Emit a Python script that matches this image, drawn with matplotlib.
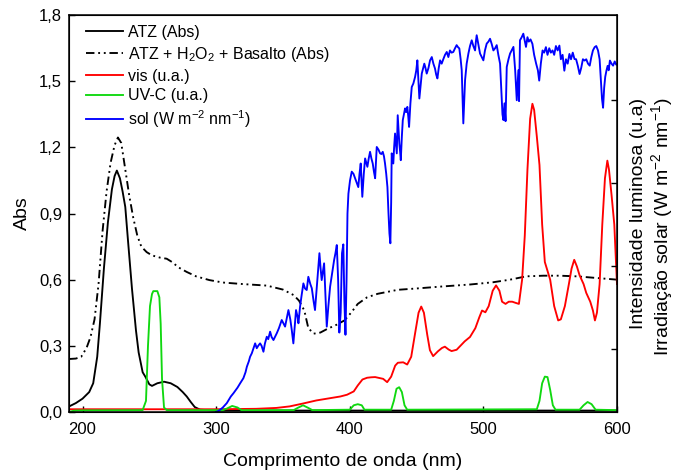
import matplotlib
matplotlib.use("Agg")
import matplotlib.pyplot as plt
from matplotlib.ticker import FuncFormatter

plt.rcParams['font.family'] = ['Liberation Sans', 'DejaVu Sans']
plt.rcParams['mathtext.default'] = 'regular'

# ATZ (Abs)
atz_x = [190, 195, 200, 205, 208, 211, 213, 216, 219, 222, 224, 225.7, 228, 230, 232, 234, 237, 240,
         242, 245, 247, 250, 252, 256, 261, 266, 271, 275, 278, 281, 284, 288, 300, 400, 500, 600]
atz_y = [0.025, 0.04, 0.06, 0.09, 0.13, 0.25, 0.40, 0.65, 0.86, 1.01, 1.07, 1.095, 1.06, 1.0, 0.93,
         0.78, 0.56, 0.37, 0.27, 0.18, 0.16, 0.125, 0.118, 0.13, 0.137, 0.13, 0.113, 0.09, 0.07, 0.045,
         0.022, 0.01, 0.006, 0.006, 0.006, 0.006]

# ATZ + H2O2 + Basalto (Abs)
mix_x = [190, 195, 199, 203, 206, 209, 212, 215, 218, 221, 224, 226.5, 229, 232, 235, 238, 241, 244,
         248, 252, 258, 263, 267, 272, 278, 285, 295, 305, 320, 338, 350, 358, 362, 366, 369, 373,
         378, 383, 390, 396, 401, 406, 413, 421, 436, 450, 469, 490, 507, 520, 532, 545, 557, 570,
         582, 592, 600]
mix_y = [0.24, 0.242, 0.25, 0.29, 0.34, 0.42, 0.58, 0.82, 1.0, 1.13, 1.21, 1.245, 1.22, 1.1, 0.98,
         0.88, 0.8, 0.75, 0.725, 0.71, 0.70, 0.695, 0.68, 0.655, 0.635, 0.615, 0.598, 0.587, 0.58,
         0.573, 0.555, 0.53, 0.505, 0.46, 0.38, 0.355, 0.36, 0.376, 0.395, 0.415, 0.45, 0.49, 0.52,
         0.536, 0.554, 0.56, 0.569, 0.578, 0.588, 0.6, 0.615, 0.618, 0.618, 0.615, 0.609, 0.604, 0.6]

# vis (u.a.)
vis_x = [190, 250, 300, 330, 345, 355, 365, 375, 385, 393, 398, 403, 406, 409.5, 413, 416, 419, 422,
         425, 428, 431, 434, 436, 440, 443, 446, 449, 451.5, 453.5, 455.5, 458, 460, 462.4, 466, 469,
         471.2, 474, 476.2, 480, 486, 490, 494, 497, 499, 501.5, 504, 507, 509.5, 512, 514, 516.6,
         519, 521.6, 524, 526.6, 529, 531, 533, 535, 536.7, 538, 540, 542, 544, 546, 548, 550, 553,
         556, 558, 561, 564, 566, 568, 570, 572, 575, 577, 580, 582, 583.5, 585, 587, 589, 591,
         592.8, 594, 596, 598, 600]
vis_y = [0.012, 0.012, 0.012, 0.014, 0.018, 0.025, 0.038, 0.052, 0.062, 0.07, 0.078, 0.093, 0.12,
         0.147, 0.155, 0.157, 0.158, 0.154, 0.15, 0.135, 0.16, 0.21, 0.223, 0.225, 0.215, 0.25, 0.36,
         0.45, 0.478, 0.45, 0.35, 0.28, 0.253, 0.275, 0.29, 0.296, 0.283, 0.276, 0.282, 0.32, 0.34,
         0.38, 0.43, 0.46, 0.452, 0.48, 0.55, 0.574, 0.55, 0.5, 0.49, 0.5, 0.5, 0.495, 0.49, 0.6,
         0.8, 1.1, 1.33, 1.398, 1.37, 1.25, 1.12, 0.85, 0.68, 0.64, 0.6, 0.48, 0.415, 0.42, 0.48,
         0.58, 0.65, 0.69, 0.66, 0.62, 0.58, 0.54, 0.5, 0.46, 0.415, 0.45, 0.58, 0.85, 1.06, 1.14,
         1.1, 0.98, 0.85, 0.58]

# UV-C (u.a.)
uvc_x = [190, 194, 200, 245, 247.5, 249, 250.5, 252, 253, 256, 257.5, 258.5, 259.5, 261, 263, 305,
         308, 312, 316, 319, 358, 361, 365, 369, 372, 400, 403, 406, 409, 411, 431, 433, 435, 437,
         439, 441, 443, 540, 542, 544, 546, 548, 550, 552, 554, 572, 575, 578, 581, 584, 600]
uvc_y = [0.0, 0.006, 0.007, 0.008, 0.05, 0.3, 0.48, 0.535, 0.548, 0.548, 0.52, 0.4, 0.15, 0.02,
         0.008, 0.008, 0.015, 0.027, 0.02, 0.008, 0.008, 0.018, 0.03, 0.018, 0.008, 0.01, 0.03,
         0.035, 0.03, 0.01, 0.01, 0.05, 0.105, 0.112, 0.09, 0.03, 0.01, 0.012, 0.05, 0.13, 0.16,
         0.158, 0.1, 0.03, 0.01, 0.01, 0.03, 0.045, 0.035, 0.01, 0.008]

# sol (W m-2 nm-1)
sol_x = [300, 302, 305, 308, 311, 313, 316, 318, 320.4, 322, 323, 324.5, 325.4, 326.7, 328, 329.2,
         330.4, 331.5, 332.9, 334, 335.4, 336.5, 337.9, 339, 340.4, 341.5, 342.9, 344, 345.4, 347,
         349.1, 350.5, 351.6, 353, 354.1, 355.5, 356.6, 357.8, 359, 359.8, 361, 361.6, 362.8, 364,
         365.3, 366.5, 367.8, 369, 370.5, 371.6, 373, 374, 375.5, 377.3, 378.2, 379, 380, 380.8,
         382, 382.8, 384, 385.3, 386.8, 388.3, 389.3, 390.3, 391.3, 392.2, 393.2, 394.2, 395.2,
         396, 396.8, 397.6, 398.3, 399, 400.2, 401.5, 402.8, 404, 405.2, 406.4, 407.3, 408.2,
         409.4, 410.5, 411.5, 412.4, 413.2, 414.2, 415.2, 416.2, 417.2, 418.1, 419, 420.2, 421.5,
         422.7, 423.7, 424.7, 425.6, 426.4, 427.3, 428.2, 429, 429.7, 430.4, 431, 431.4, 432,
         432.6, 433.2, 433.9, 434.5, 435.2, 435.9, 436.5, 437.1, 437.7, 438.2, 439, 439.7, 440.5,
         441.4, 442.2, 443.1, 443.8, 444.4, 445.4, 446.4, 447.6, 448.9, 449.8, 450.6, 451.4,
         452.1, 453, 453.9, 455, 455.8, 456.7, 457.6, 458.9, 460.1, 461.4, 462.6, 463.8, 464.7,
         465.6, 466.6, 467.6, 468.8, 470, 471.3, 472.6, 473.8, 475, 476.2, 477.5, 478.8, 480,
         481, 482, 483, 483.8, 484.5, 485, 485.7, 486.3, 487.5, 488.8, 490, 491.3, 492.5, 493.8,
         494.4, 495, 496.2, 497.5, 498.8, 500, 501.2, 502.5, 503.8, 505, 506.2, 507.5, 508.8,
         510, 511.2, 512.5, 513.5, 514.3, 515, 515.8, 516.6, 517.5, 518.8, 520, 521.2, 522.5,
         523.8, 525, 526.2, 526.7, 527.4, 528.7, 529.9, 530.8, 531.9, 533, 534, 535.3, 536.7,
         538, 539.5, 540.8, 541.8, 543, 544.3, 545.5, 546.8, 548, 549.3, 550.5, 551.8, 553,
         554.3, 555.6, 556.9, 558, 559.3, 560.6, 561.8, 563.1, 564.4, 565.6, 566.9, 568.2,
         569.4, 570.7, 572, 573.2, 574.5, 575.8, 577, 578.3, 579.6, 580.8, 582, 583.3, 584.5,
         585.8, 587, 588, 588.8, 589.6, 590.4, 591.2, 592.1, 593, 593.8, 594.7, 595.9, 597.1,
         598.3, 599.5, 600]
sol_y = [0.0, 0.005, 0.02, 0.04, 0.07, 0.085, 0.11, 0.13, 0.153, 0.18, 0.205, 0.23, 0.25, 0.266,
         0.29, 0.311, 0.289, 0.3, 0.311, 0.3, 0.273, 0.31, 0.341, 0.33, 0.364, 0.34, 0.326, 0.34,
         0.357, 0.38, 0.417, 0.4, 0.387, 0.43, 0.462, 0.42, 0.372, 0.311, 0.4, 0.462, 0.43, 0.402,
         0.477, 0.53, 0.583, 0.56, 0.553, 0.613, 0.58, 0.561, 0.5, 0.462, 0.58, 0.72, 0.65, 0.598,
         0.64, 0.674, 0.5, 0.387, 0.48, 0.568, 0.63, 0.689, 0.72, 0.757, 0.6, 0.36, 0.45, 0.72,
         0.76, 0.5, 0.35, 0.6, 0.9, 0.99, 1.05, 1.09, 1.08, 1.06, 1.04, 1.02, 1.08, 1.127, 0.976,
         1.08, 1.15, 1.13, 1.112, 1.15, 1.18, 1.15, 1.127, 1.09, 1.06, 1.202, 1.19, 1.173, 1.17,
         1.18, 1.16, 1.127, 1.08, 1.02, 0.9, 0.81, 0.765, 0.95, 1.173, 1.15, 1.127, 1.2, 1.263,
         1.22, 1.173, 1.346, 1.28, 1.218, 1.18, 1.142, 1.25, 1.324, 1.35, 1.377, 1.36, 1.384,
         1.34, 1.293, 1.4, 1.474, 1.49, 1.52, 1.55, 1.595, 1.5, 1.422, 1.48, 1.535, 1.56, 1.58,
         1.56, 1.535, 1.56, 1.595, 1.61, 1.58, 1.558, 1.53, 1.513, 1.56, 1.595, 1.58, 1.6, 1.62,
         1.633, 1.61, 1.64, 1.63, 1.633, 1.65, 1.664, 1.655, 1.649, 1.6, 1.55, 1.4, 1.309, 1.42,
         1.505, 1.58, 1.626, 1.66, 1.686, 1.66, 1.64, 1.68, 1.709, 1.67, 1.626, 1.61, 1.595,
         1.64, 1.671, 1.68, 1.693, 1.67, 1.64, 1.65, 1.664, 1.62, 1.58, 1.45, 1.35, 1.324, 1.4,
         1.319, 1.565, 1.6, 1.626, 1.64, 1.656, 1.55, 1.414, 1.55, 1.41, 1.686, 1.7, 1.716, 1.69,
         1.656, 1.7, 1.68, 1.69, 1.67, 1.62, 1.58, 1.55, 1.503, 1.58, 1.64, 1.63, 1.655, 1.62,
         1.65, 1.63, 1.64, 1.62, 1.66, 1.64, 1.662, 1.6, 1.62, 1.548, 1.6, 1.58, 1.624, 1.6,
         1.63, 1.601, 1.6, 1.57, 1.533, 1.56, 1.6, 1.594, 1.6, 1.58, 1.571, 1.61, 1.64, 1.655,
         1.66, 1.64, 1.6, 1.5, 1.42, 1.38, 1.47, 1.52, 1.548, 1.57, 1.55, 1.594, 1.58, 1.571,
         1.59, 1.575, 1.578]

fig = plt.figure(figsize=(6.78, 4.74), dpi=100)
ax = fig.add_axes([0.102, 0.131, 0.808, 0.837])

lw = 1.35
ax.plot(atz_x, atz_y, color='black', lw=lw, label='ATZ (Abs)')
ax.plot(mix_x, mix_y, color='black', lw=lw, linestyle=(0, (4.5, 2, 1, 2, 1, 2)),
        label='ATZ + H$_2$O$_2$ + Basalto (Abs)')
ax.plot(vis_x, vis_y, color='#ff0000', lw=lw, label='vis (u.a.)')
ax.plot(uvc_x, uvc_y, color='#10d810', lw=lw, label='UV-C (u.a.)')
ax.plot(sol_x, sol_y, color='#0000ff', lw=lw, label='sol (W m$^{-2}$ nm$^{-1}$)')

ax.set_xlim(190, 600)
ax.set_ylim(0, 1.8)
ax.set_xticks([200, 300, 400, 500, 600])
ax.set_yticks([0, 0.3, 0.6, 0.9, 1.2, 1.5, 1.8])
ax.yaxis.set_major_formatter(FuncFormatter(lambda v, p: f'{v:.1f}'.replace('.', ',')))
ax.tick_params(direction='in', length=4, width=1, labelsize=12)
ax.tick_params(axis='x', pad=7)
ax.tick_params(axis='y', pad=5)
for s in ax.spines.values():
    s.set_linewidth(1.1)

ax.set_xlabel('Comprimento de onda (nm)', fontsize=14, labelpad=12)
ax.set_ylabel('Abs', fontsize=14, labelpad=6)

# eixo da direita so com marcas
ax2 = ax.twinx()
ax2.set_ylim(0.241, 5.024)
ax2.set_yticks([1, 2, 3, 4])
ax2.set_yticklabels([])
ax2.tick_params(direction='in', length=4, width=1)

fig.text(0.942, 1 - 213 / 474, 'Intensidade luminosa (u.a)', rotation=90,
         ha='center', va='center', fontsize=14)
fig.text(0.976, 1 - 227 / 474, 'Irradiação solar (W m$^{-2}$ nm$^{-1}$)', rotation=90,
         ha='center', va='center', fontsize=14)

ax.legend(loc='upper left', bbox_to_anchor=(0.031, 0.975), frameon=False, fontsize=11.5,
          borderpad=0, borderaxespad=0, handlelength=2.3, handletextpad=0.3, labelspacing=0.3)

fig.savefig('out.png', dpi=100)
